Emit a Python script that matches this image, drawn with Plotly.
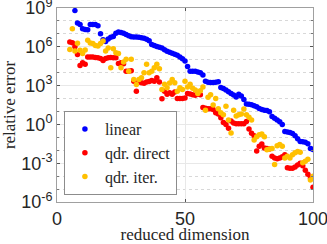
import plotly.graph_objects as go

# reduced dimension values
x_linear = list(range(7, 101))
x_qdr = list(range(5, 101))

# relative error, linear ROM (x = 7..100)
err_linear = [
    6.3e8, 6.9e7, 5.2e7, 2.5e7, 2.2e7, 2.1e7, 5.2e7, 5.4e7, 5.2e7, 4.3e7,
    1.0e7, 3.5e6, 2.6e6, 4.0e6, 5.4e6, 6.3e6, 1.1e7, 1.4e7, 1.3e7, 1.1e7,
    8.9e6, 7.1e6, 5.9e6, 5.8e6, 5.6e6, 5.4e6, 5.0e6, 4.5e6, 3.8e6, 3.0e6,
    1.5e6, 1.26e6, 1.07e6, 9.1e5, 7.9e5, 5.8e5, 4.6e5, 3.8e5, 3.2e5, 2.6e5,
    2.2e5, 1.66e5, 1.2e5, 7.9e4, 3.0e4, 1.3e4, 1.26e4, 1.26e4, 1.15e4, 1.0e4,
    6.6e3, 2.2e3, 1.8e3, 1.74e3, 1.74e3, 1.8e3, 2.0e3, 7.1e2, 5.9e2, 4.5e2,
    3.3e2, 2.5e2, 1.86e2, 1.3e2, 2.1e2, 1.6e2, 83, 38, 36, 33,
    28, 23, 17, 14, 12.6, 11.7, 9.5, 4.0, 3.0, 2.2,
    1.6, 1.0, 0.28, 0.26, 0.24, 0.2, 0.135, 0.076, 0.048, 0.045,
    0.042, 0.032, 0.014, 0.0117,
]

# relative error, quadratic direct (x = 5..100)
err_direct = [
    2.3e6, 2.1e6, 1.0e6, 2.5e5, 3.6e4, 5.9e4, 4.4e4, 1.6e5, 1.6e5, 1.6e5,
    1.5e5, 1.45e5, 1.26e5, 8.9e4, 1.26e5, 1.45e5, 1.5e5, 1.45e5, 1.4e5, 5.2e4,
    5.9e4, 4.9e4, 1.3e4, 1.3e4, 1.4e4, 2.2e3, 3.7e2, 1.9e3, 1.66e3, 1.5e3,
    1.9e3, 2.1e3, 2.5e3, 2.2e3, 4.1e3, 1.9e3, 95, 3.7e2, 2.1e2, 2.8e2,
    2.1e2, 3.2e2, 100, 100, 100, 1.1e2, 2.5e2, 2.2e2, 2.0e2, 1.8e2,
    2.2e2, 2.0e2, 20, 18, 16, 16, 14, 8.0, 6.3, 3.2,
    1.4, 1.0, 0.5, 1.8, 1.26, 1.12, 1.12, 1.12, 1.12, 1.66,
    0.44, 0.21, 0.13, 8.9e-3, 0.02, 0.03, 0.015, 0.014, 0.0126, 3.5e-3,
    2.5e-3, 2.2e-3, 2.5e-3, 3.2e-3, 4.5e-3, 4.5e-4, 4.0e-4, 4.0e-4, 5.0e-4, 7.1e-4,
    1.0e-3, 6.3e-4, 2.8e-4, 1.4e-4, 7.1e-5, 1.4e-5,
]

# relative error, quadratic iterative (x = 5..100)
err_iter = [
    6.3e5, 2.5e7, 4.7e5, 1.9e6, 5.4e5, 3.0e5, 5.6e5, 3.2e6, 2.0e6, 1.8e6,
    1.26e6, 1.15e6, 1.8e6, 2.8e6, 4.7e5, 7.9e5, 2.4e4, 7.2e5, 3.5e5, 3.0e5,
    2.4e4, 6.6e4, 1.07e5, 1.3e4, 1.07e5, 3.0e3, 1.2e3, 3.0e3, 4.0e3, 1.0e4,
    4.4e4, 1.0e4, 1.3e4, 2.4e4, 4.4e4, 2.0e4, 5.0e2, 1.26e3, 6.8e2, 1.6e3,
    3.0e3, 1.66e3, 3.7e2, 6.8e2, 5.0e2, 2.2e3, 7.9e2, 1.26e3, 6.3e2, 4.5e2,
    2.5e2, 4.0e2, 7.9e2, 12.6, 1.26e2, 2.0e2, 32, 1.0e2, 16, 7.9,
    5.6, 25, 2.2, 0.22, 12.6, 4.5, 5.6, 6.3, 15.8, 5.6,
    3.5, 2.2, 0.063, 0.11, 0.16, 0.18, 0.11, 0.011, 0.0126, 0.014,
    7.9e-4, 0.022, 0.028, 0.02, 2.5e-3, 3.5e-3, 2.5e-3, 4.5e-3, 6.3e-3, 7.9e-3,
    7.1e-3, 1.1e-3, 1.4e-3, 2.0e-3, 5.0e-5, 1.0e-4,
]

series_names = ["linear", "qdr. direct", "qdr. iter."]
series_colors = ["#0000ff", "#ff0000", "#ffc000"]

y_tickvals = [1e-6, 1e-3, 1e0, 1e3, 1e6, 1e9]
y_ticktext = ["10<sup>-6</sup>", "10<sup>-3</sup>", "10<sup>0</sup>",
              "10<sup>3</sup>", "10<sup>6</sup>", "10<sup>9</sup>"]
y_minor = [10.0 ** k for k in range(-6, 10)]
x_tickvals = [0, 50, 100]

fig = go.Figure()
for xs, ys, name, col in zip([x_linear, x_qdr, x_qdr],
                             [err_linear, err_direct, err_iter],
                             series_names, series_colors):
    fig.add_trace(go.Scatter(x=xs, y=ys, mode="markers", name=name,
                             marker=dict(color=col, size=5.5, line=dict(width=0))))

axis_font = dict(family="Liberation Sans, Arial", size=18, color="#262626")
serif = "Liberation Serif, Times New Roman, serif"

fig.update_layout(
    width=327, height=244,
    margin=dict(l=57, r=14, t=8, b=42),
    paper_bgcolor="white", plot_bgcolor="white",
    showlegend=True,
    legend=dict(x=0.027, y=0.036, xanchor="left", yanchor="bottom",
                bgcolor="white", bordercolor="#8c8c8c", borderwidth=1,
                font=dict(family=serif, size=16, color="#262626"),
                itemwidth=30, tracegroupgap=0),
    xaxis=dict(range=[-0.0001, 100.0001], tickvals=x_tickvals, ticks="inside",
               ticklen=3, automargin=False, ticklabeloverflow="allow",
               tickcolor="#555555", showline=True, linecolor="#a0a0a0",
               linewidth=1, mirror="ticks", showgrid=True, gridcolor="#e8e8e8",
               zeroline=False, tickfont=axis_font,
               title=dict(text="reduced dimension", standoff=2,
                          font=dict(family=serif, size=17, color="#262626"))),
    yaxis=dict(type="log", range=[-6.00001, 9.00001], tickvals=y_tickvals,
               ticktext=y_ticktext, automargin=False, ticklabeloverflow="allow",
               ticks="inside", ticklen=3, tickcolor="#555555", showline=True,
               linecolor="#a0a0a0", linewidth=1, mirror="ticks", showgrid=True,
               gridcolor="#e8e8e8", zeroline=False, tickfont=axis_font,
               minor=dict(tickvals=y_minor, showgrid=True, gridcolor="#d8d8d8",
                          griddash="dot", ticks="inside", ticklen=2,
                          tickcolor="#777777"),
               title=dict(text="relative error", standoff=2,
                          font=dict(family=serif, size=17, color="#262626"))),
)

fig.write_html("out.html", config={"displayModeBar": False},
               post_script="document.body.style.margin='0';")
